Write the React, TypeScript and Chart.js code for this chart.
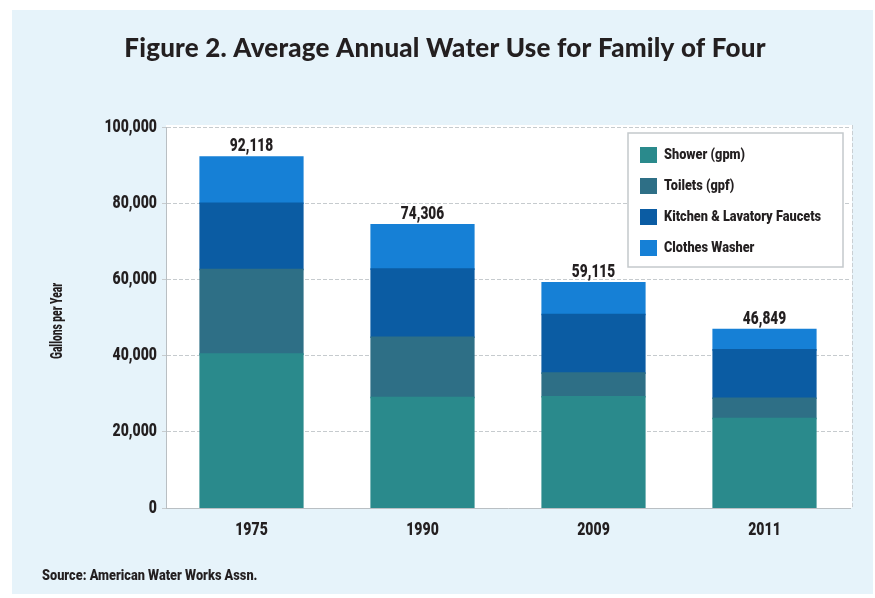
import React, { useEffect, useRef } from "react";
import { Chart, registerables } from "chart.js";

Chart.register(...registerables);

const categories = ["1975", "1990", "2009", "2011"];
const seriesNames = ["Shower (gpm)", "Toilets (gpf)", "Kitchen & Lavatory Faucets", "Clothes Washer"];
const shower = [40400, 29000, 29200, 23500];
const toilets = [22200, 15800, 6200, 5300];
const kitchen = [17400, 17900, 15400, 12700];
const washer = [12118, 11606, 8315, 5349];
const totals = [92118, 74306, 59115, 46849];
const yTicks = [0, 20000, 40000, 60000, 80000, 100000];
const seriesColors = ["#2a8a8c", "#2e6f86", "#0b5ca3", "#1680d6"];

const titleText = "Figure 2. Average Annual Water Use for Family of Four";
const yTitle = "Gallons per Year";
const sourceText = "Source: American Water Works Assn.";

const COND = 'Roboto, "Liberation Sans", sans-serif';
const INK = "#231f20";

function condText(ctx: any, text: string, x: number, y: number, size: number, sx: number, align: string, baseline: string) {
  ctx.save();
  ctx.translate(x, y);
  ctx.scale(sx, 1);
  ctx.font = "900 " + size + "px " + COND;
  ctx.textAlign = align;
  ctx.textBaseline = baseline;
  ctx.fillText(text, 0, 0);
  ctx.restore();
}

const decorPlugin = {
  id: "decor",
  beforeDraw(chart: any) {
    const { ctx, chartArea } = chart;
    ctx.save();
    ctx.fillStyle = "#ffffff";
    ctx.fillRect(chartArea.left, chartArea.top - 2, chartArea.right - chartArea.left + 2, chartArea.bottom - chartArea.top + 2);
    ctx.strokeStyle = "#c9cfd3";
    ctx.lineWidth = 1;
    ctx.setLineDash([4, 2]);
    ctx.beginPath();
    ctx.moveTo(chartArea.right + 2.5, chartArea.top - 2);
    ctx.lineTo(chartArea.right + 2.5, chartArea.bottom);
    ctx.stroke();
    ctx.restore();
  },
  afterDraw(chart: any) {
    const { ctx, chartArea } = chart;
    ctx.save();
    ctx.fillStyle = INK;
    // Title
    ctx.save();
    ctx.font = '900 26px Lato, "Open Sans", sans-serif';
    (ctx as any).letterSpacing = "0.2px";
    ctx.textAlign = "center";
    ctx.textBaseline = "alphabetic";
    ctx.fillText(titleText, 445, 57);
    ctx.restore();
    // Y ticks
    const ys = chart.scales.y;
    ys.ticks.forEach((t: any) => {
      const py = ys.getPixelForValue(t.value);
      condText(ctx, Number(t.value).toLocaleString("en-US"), ys.right - 9, py, 18, 0.78, "right", "middle");
    });
    // X labels
    const xs = chart.scales.x;
    xs.getLabels().forEach((lab: string, i: number) => {
      condText(ctx, lab, xs.getPixelForTick(i), 530, 18, 0.78, "center", "middle");
    });
    // Y title
    ctx.save();
    ctx.translate(58, 321);
    ctx.rotate(-Math.PI / 2);
    condText(ctx, yTitle, 0, 0, 16, 0.64, "center", "middle");
    ctx.restore();
    // Source
    condText(ctx, sourceText, 42, 576, 15, 0.85, "left", "middle");
    // Totals above bars
    const meta = chart.getDatasetMeta(chart.data.datasets.length - 1);
    meta.data.forEach((bar: any, i: number) => {
      condText(ctx, totals[i].toLocaleString("en-US"), bar.x, bar.y - 6, 19, 0.72, "center", "alphabetic");
    });
    // Legend
    const bw = 215, bh = 134;
    const bx = chartArea.right - 7 - bw;
    const by = chartArea.top + 6;
    ctx.fillStyle = "#ffffff";
    ctx.fillRect(bx, by, bw, bh);
    ctx.strokeStyle = "#c4c9cc";
    ctx.lineWidth = 1.5;
    ctx.setLineDash([]);
    ctx.strokeRect(bx, by, bw, bh);
    chart.data.datasets.forEach((ds: any, i: number) => {
      const cy = by + 22 + i * 31;
      ctx.fillStyle = ds.backgroundColor;
      ctx.fillRect(bx + 12, cy - 8, 17, 16);
      ctx.fillStyle = INK;
      condText(ctx, ds.label, bx + 36, cy, 15, 0.85, "left", "middle");
    });
    ctx.restore();
  },
};

export default function App() {
  const ref = useRef<HTMLCanvasElement>(null);
  useEffect(() => {
    const datasets = [shower, toilets, kitchen, washer].map((d, i) => ({
      label: seriesNames[i],
      data: d,
      backgroundColor: seriesColors[i],
      borderWidth: 0,
      inflateAmount: 0.8,
      categoryPercentage: 1,
      barPercentage: 0.6,
    }));
    const chart = new Chart(ref.current!, {
      type: "bar",
      data: { labels: categories, datasets },
      options: {
        animation: false,
        responsive: false,
        maintainAspectRatio: false,
        layout: { padding: { left: 0, top: 127, right: 25, bottom: 50 } },
        plugins: { legend: { display: false }, tooltip: { enabled: false }, title: { display: false } },
        scales: {
          x: {
            stacked: true,
            grid: { display: false },
            border: { display: true, color: "#b9bfc3", width: 1 },
            ticks: { color: "rgba(0,0,0,0)", font: { size: 18 }, padding: 12 },
            afterFit: (s: any) => { s.height = 40; },
          },
          y: {
            stacked: true,
            min: 0,
            max: 100000,
            afterBuildTicks: (s: any) => { s.ticks = yTicks.map((v) => ({ value: v })); },
            grid: { color: "#c6cbce", tickLength: 4, lineWidth: 1 },
            border: { display: true, color: "#b9bfc3", dash: [4, 2] },
            ticks: {
              color: "rgba(0,0,0,0)",
              font: { size: 17 },
              padding: 5,
              callback: (v: any) => Number(v).toLocaleString("en-US"),
            },
            afterFit: (s: any) => { s.width = 166; },
          },
        },
      },
      plugins: [decorPlugin],
    });
    return () => chart.destroy();
  }, []);
  return (
    <div style={{ position: "absolute", left: 0, top: 0, width: 875, height: 598, background: "#ffffff" }}>
      <div style={{ position: "absolute", left: 12, top: 10, width: 861, height: 584, background: "#e6f3fa" }} />
      <canvas ref={ref} width={875} height={598} style={{ position: "absolute", left: 0, top: 0, width: 875, height: 598 }} />
    </div>
  );
}
